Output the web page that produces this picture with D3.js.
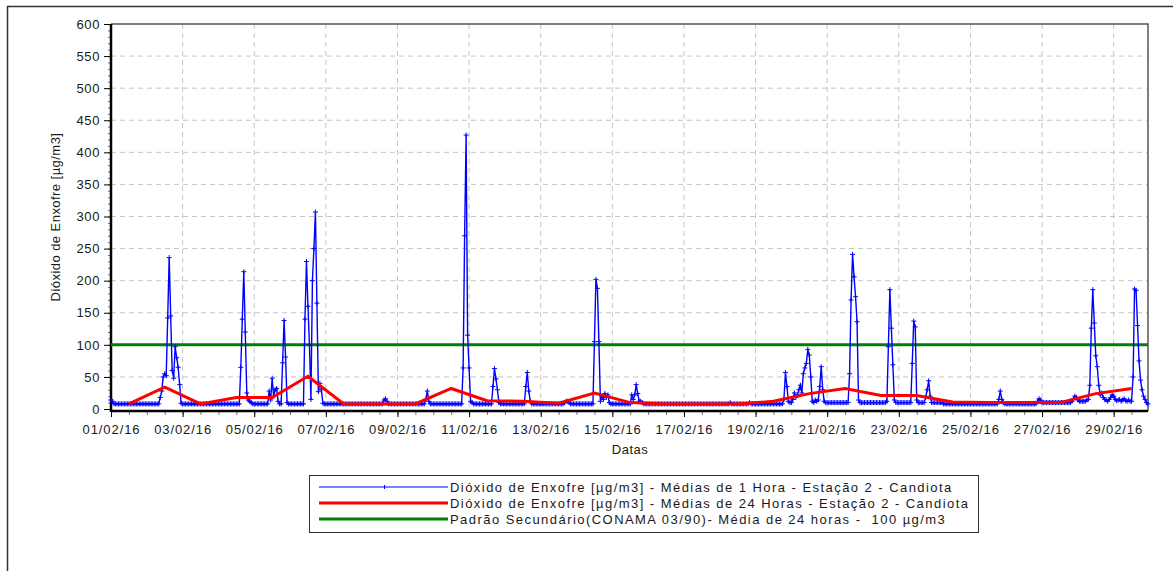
<!DOCTYPE html>
<html lang="pt">
<head>
<meta charset="UTF-8">
<title>Dióxido de Enxofre - Estação 2 - Candiota</title>
<script src="https://d3js.org/d3.v7.min.js"></script>
<style>
  body { margin: 0; background: #fff; }
  svg text { font-family: "Liberation Sans", Arial, sans-serif; fill: #1a1a1a; }
</style>
</head>
<body>
<svg id="chart" width="1173" height="571"></svg>
<script>
// hourly SO2 means, one line per day (01/02/16 ... 29/02/16), 00h..23h
var hourlySO2 = [
  14,12,8,8,8,8,8,8,8,8,8,8,8,8,8,8,8,8,8,8,8,8,8,8,
  8,8,8,8,8,8,8,8,8,18,28,50,55,52,142,236,145,60,48,97,80,65,38,9,
  8,8,8,8,8,8,8,8,8,8,8,8,8,8,8,8,8,8,8,8,8,8,8,8,
  8,8,8,8,8,8,8,8,8,8,8,8,8,8,8,65,140,214,120,25,14,12,10,8,
  8,8,8,8,8,8,8,8,8,8,28,14,48,20,30,32,12,8,8,72,138,81,10,8,
  8,8,8,8,8,8,8,8,8,8,140,230,160,100,15,200,250,307,165,27,40,30,9,8,
  8,8,8,8,8,8,8,8,8,8,8,8,8,8,8,8,8,8,8,8,8,8,8,8,
  8,8,8,8,8,8,8,8,8,8,8,8,8,8,8,14,16,12,8,8,8,8,8,8,
  8,8,8,8,8,8,8,8,8,8,8,8,8,8,8,8,8,8,8,15,28,12,8,8,
  8,8,8,8,8,8,8,8,8,8,8,8,8,8,8,8,8,8,8,8,64,270,427,115,
  64,12,10,8,8,8,8,8,8,8,8,8,8,8,8,8,35,63,47,30,10,8,8,8,
  8,8,8,8,8,8,8,8,8,8,8,8,8,8,35,57,28,12,8,8,8,8,8,8,
  8,8,8,8,8,8,8,8,8,8,8,8,8,8,8,8,10,12,12,10,8,8,8,8,
  8,8,8,8,8,8,8,8,8,8,8,8,105,202,188,105,12,20,15,24,18,22,10,8,
  8,8,8,8,8,8,8,8,8,8,8,8,8,22,15,22,38,24,12,12,10,8,8,8,
  8,8,8,8,8,8,8,8,8,8,8,8,8,8,8,8,8,8,8,8,8,8,8,8,
  8,8,8,8,8,8,8,8,8,8,8,8,8,8,8,8,8,8,8,8,8,8,8,8,
  8,8,8,8,8,8,8,10,8,8,8,8,8,8,8,8,8,8,8,8,10,8,8,8,
  8,8,8,8,8,8,8,8,8,8,8,8,8,8,8,8,8,8,8,15,57,35,12,10,
  10,15,25,18,22,30,37,25,55,64,71,93,84,50,12,10,14,12,14,35,66,30,12,10,
  10,10,10,10,10,10,10,10,10,10,10,10,10,10,10,55,170,241,206,175,136,14,10,10,
  10,10,10,10,10,10,10,10,10,10,10,10,10,10,10,10,12,97,186,126,69,14,10,10,
  10,10,10,10,10,10,10,10,10,71,137,128,14,10,10,10,10,10,18,30,44,20,10,10,
  10,10,10,10,10,10,8,8,8,8,8,8,8,8,8,8,8,8,8,8,8,8,8,8,
  8,8,8,8,8,8,8,8,8,8,8,8,8,8,8,8,8,8,8,15,28,15,10,8,
  8,8,8,8,8,8,8,8,8,8,8,8,8,8,8,8,8,8,8,8,8,12,16,14,
  10,10,10,10,10,10,10,10,10,10,10,10,10,10,10,10,10,10,10,10,12,16,20,18,
  14,12,12,12,12,12,14,15,37,126,186,134,83,66,37,22,25,18,15,14,12,15,18,22,
  20,15,13,14,15,12,14,16,13,12,14,12,12,50,187,185,130,75,45,30,20,15,10,8
];

// 24 h means, one per day
var dailySO2 = [8, 34, 8, 18, 18, 51, 8, 8, 8, 32, 13, 12, 9, 25, 10, 8, 8, 8,
                12, 24, 32, 21, 21, 11, 10, 10, 10, 24, 32];

var standardSO2 = 100;

var yTicks = [0, 50, 100, 150, 200, 250, 300, 350, 400, 450, 500, 550, 600];
var dateLabels = ["01/02/16", "03/02/16", "05/02/16", "07/02/16", "09/02/16",
                  "11/02/16", "13/02/16", "15/02/16", "17/02/16", "19/02/16",
                  "21/02/16", "23/02/16", "25/02/16", "27/02/16", "29/02/16"];

var legendLabels = [
  "Dióxido de Enxofre [µg/m3] - Médias de 1 Hora - Estação 2 - Candiota",
  "Dióxido de Enxofre [µg/m3] - Médias de 24 Horas - Estação 2 - Candiota",
  "Padrão Secundário(CONAMA 03/90)- Média de 24 horas -  100 µg/m3"
];

var plot = {left: 111, right: 1148, top: 24, bottom: 411};

var start = new Date(2016, 1, 1, 0);
var end = new Date(2016, 1, 29, 23);
var parseDay = d3.timeParse("%d/%m/%y");

var svg = d3.select("#chart");

var x = d3.scaleTime().domain([start, end]).range([plot.left, plot.right]);
var y = d3.scaleLinear().domain([-3.1, 600]).range([plot.bottom, plot.top]);

// outer frame
svg.append("path")
    .attr("d", "M7.5,571V6.5H1173")
    .attr("fill", "none")
    .attr("stroke", "#333")
    .attr("stroke-width", 1.5);

var tickDates = dateLabels.map(parseDay);

// grid
svg.append("g").selectAll("line")
    .data(tickDates.slice(1))
    .enter().append("line")
    .attr("x1", d => x(d)).attr("x2", d => x(d))
    .attr("y1", plot.top).attr("y2", plot.bottom)
    .attr("stroke", "#c4c4c4").attr("stroke-dasharray", "5,4");

svg.append("g").selectAll("line")
    .data(yTicks.slice(1, -1))
    .enter().append("line")
    .attr("x1", plot.left).attr("x2", plot.right)
    .attr("y1", d => y(d)).attr("y2", d => y(d))
    .attr("stroke", "#c4c4c4").attr("stroke-dasharray", "5,4");

// plot border top/right
svg.append("path")
    .attr("d", "M" + plot.left + "," + plot.top + "H" + plot.right + "V" + plot.bottom)
    .attr("fill", "none").attr("stroke", "#555").attr("stroke-width", 1.5);

// y axis
var yMinor = svg.append("g")
    .attr("transform", "translate(" + plot.left + ",0)")
    .call(d3.axisLeft(y).tickValues(d3.range(0, 601, 10)).tickSize(3).tickFormat(""));
yMinor.select(".domain").remove();
yMinor.selectAll("line").attr("stroke", "#777");

var yAxis = svg.append("g")
    .attr("transform", "translate(" + plot.left + ",0)")
    .call(d3.axisLeft(y).tickValues(yTicks).tickSize(7).tickPadding(4));
yAxis.select(".domain").remove();
yAxis.selectAll("text").style("font-size", "13px").style("letter-spacing", "0.6px");

// x axis
var xMinor = svg.append("g")
    .attr("transform", "translate(0," + plot.bottom + ")")
    .call(d3.axisBottom(x).tickValues(d3.timeHour.every(12).range(start, end)).tickSize(4).tickFormat(""));
xMinor.select(".domain").remove();
xMinor.selectAll("line").attr("stroke", "#777");

var xAxis = svg.append("g")
    .attr("transform", "translate(0," + plot.bottom + ")")
    .call(d3.axisBottom(x).tickValues(tickDates).tickSize(6).tickPadding(8)
        .tickFormat((d, i) => dateLabels[i]));
xAxis.select(".domain").remove();
xAxis.selectAll("text").style("font-size", "13px").style("letter-spacing", "0.9px");

svg.append("line")
    .attr("x1", plot.left).attr("x2", plot.left)
    .attr("y1", plot.top).attr("y2", plot.bottom + 1)
    .attr("stroke", "#000").attr("stroke-width", 2.5);
svg.append("line")
    .attr("x1", plot.left).attr("x2", plot.right)
    .attr("y1", plot.bottom).attr("y2", plot.bottom)
    .attr("stroke", "#000").attr("stroke-width", 2.5);

// axis titles
svg.append("text")
    .attr("x", 630).attr("y", 454)
    .attr("text-anchor", "middle")
    .style("font-size", "13px")
    .style("letter-spacing", "0.5px")
    .text("Datas");

svg.append("text")
    .attr("transform", "translate(60,217) rotate(-90)")
    .attr("text-anchor", "middle")
    .style("font-size", "13px")
    .style("letter-spacing", "0.45px")
    .text("Dióxido de Enxofre [µg/m3]");

// series
var hourly = hourlySO2.map((v, i) => ({date: d3.timeHour.offset(start, i), value: v}));
var daily = dailySO2.map((v, i) => ({date: new Date(2016, 1, 1 + i, 12), value: v}));

var line = d3.line().x(d => x(d.date)).y(d => y(d.value));

svg.append("line")
    .attr("x1", plot.left).attr("x2", plot.right)
    .attr("y1", y(standardSO2)).attr("y2", y(standardSO2))
    .attr("stroke", "#008000").attr("stroke-width", 3);

svg.append("path")
    .datum(hourly)
    .attr("d", line)
    .attr("fill", "none")
    .attr("stroke", "#0000ff")
    .attr("stroke-width", 1.4);

svg.append("g").selectAll("path")
    .data(hourly)
    .enter().append("path")
    .attr("transform", d => "translate(" + x(d.date) + "," + y(d.value) + ")")
    .attr("d", "M-2.5,0H2.5M0,-2.5V2.5")
    .attr("stroke", "#0000ff")
    .attr("stroke-width", 1);

svg.append("path")
    .datum(daily)
    .attr("d", line)
    .attr("fill", "none")
    .attr("stroke", "#ff0000")
    .attr("stroke-width", 3);

// legend
var legend = svg.append("g");
legend.append("rect")
    .attr("x", 309.5).attr("y", 475.5)
    .attr("width", 669).attr("height", 57)
    .attr("fill", "#fff").attr("stroke", "#333");

var legendStyles = [
  {color: "#0000ff", width: 1.2},
  {color: "#ff0000", width: 3},
  {color: "#008000", width: 3}
];

legendLabels.forEach(function(label, i) {
  var ly = 487 + i * 16;
  legend.append("line")
      .attr("x1", 319).attr("x2", 448)
      .attr("y1", ly).attr("y2", ly)
      .attr("stroke", legendStyles[i].color)
      .attr("stroke-width", legendStyles[i].width);
  if (i === 0) {
    legend.append("path")
        .attr("d", "M384.5,485V489")
        .attr("stroke", "#0000ff");
  }
  legend.append("text")
      .attr("x", 450).attr("y", ly + 4.5)
      .style("font-size", "13px")
      .style("letter-spacing", "1.45px")
      .style("white-space", "pre")
      .text(label);
});
</script>
</body>
</html>
